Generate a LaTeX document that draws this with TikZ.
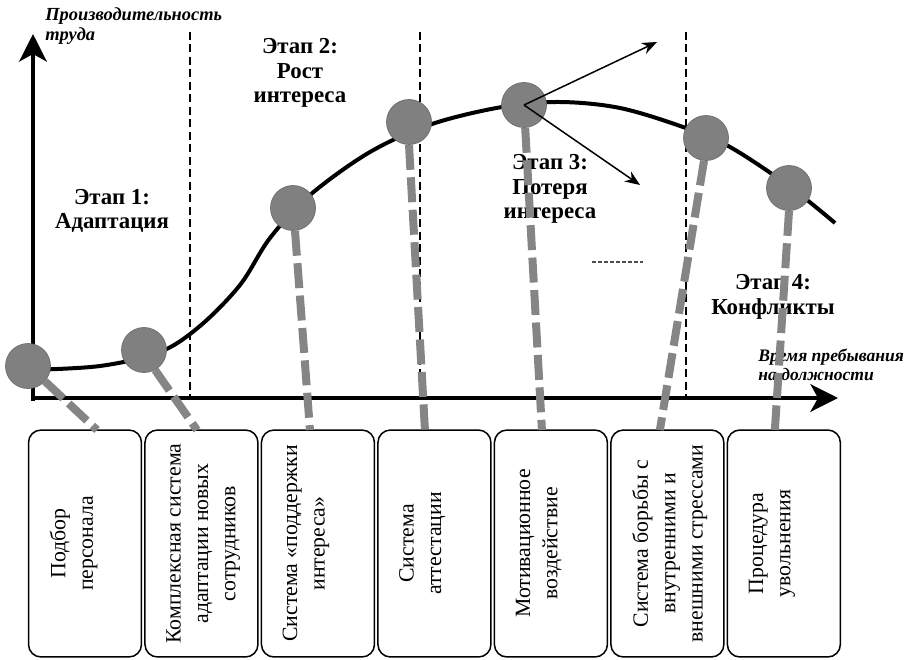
\documentclass[tikz,border=0pt]{standalone}
\usepackage{fontspec}
\setmainfont{Liberation Serif}
\usetikzlibrary{shapes,arrows,arrows.meta,positioning,calc}

\begin{document}
\begin{tikzpicture}[x=0.02cm,y=-0.02cm]
  \tikzstyle{axis}=[line width=0.08cm, -{Stealth[length=0.55cm,width=0.55cm,inset=0.15cm]}]
  \tikzstyle{border}=[line width=0.04cm, dash pattern=on 0.16cm off 0.09cm]
  \tikzstyle{ball}=[circle, fill=black!50, draw=black!58, minimum size=0.9cm, inner sep=0pt]
  \tikzstyle{stem}=[line width=0.16cm, black!48, dash pattern=on 0.5cm off 0.15cm]
  \tikzstyle{tool}=[draw, line width=0.03cm, rounded corners=0.25cm, minimum width=2.26cm, minimum height=4.54cm, inner sep=0pt, outer sep=0pt]
  \tikzstyle{tooltext}=[rotate=90, anchor=north, inner sep=0pt, align=center, font=\fontsize{12.4}{15.6}\selectfont]
  \tikzstyle{stage}=[align=center, font=\fontsize{13}{14}\selectfont\bfseries]
  \tikzstyle{axislabel}=[anchor=north west, inner sep=0pt, align=left, font=\fontsize{10.5}{11.5}\selectfont\bfseries\itshape]
  \tikzstyle{trend}=[line width=0.03cm, -{Stealth[length=0.3cm,width=0.24cm]}]

  \useasboundingbox (0,0) rectangle (919,659);

  % Границы этапов
  \draw[border] (190,32) -- (190,398);
  \draw[border] (420,32) -- (420,398);
  \draw[border] (686,32) -- (686,398);

  % Оси
  \coordinate (o) at (33,401);
  \coordinate (ytip) at (33,34);
  \coordinate (xtip) at (838,398);
  \draw[axis] (o) -- (ytip);
  \draw[axis] (31,398) -- (xtip);

  % Кривая производительности
  \draw[line width=0.08cm] plot[smooth, tension=0.55] coordinates {(28,370) (100,366) (160,352) (200,326) (240,285) (270,238) (310,195) (370,152) (432,124) (502,107) (560,102) (620,108) (683,127) (730,147) (789,186) (835,223)};

  % Подписи осей
  \node[axislabel] (ylab) at (45,7) {Производительность\\труда};
  \node[axislabel, font=\fontsize{10}{10.5}\selectfont\bfseries\itshape] (xlab) at (758,349) {Время пребывания\\на должности};

  % Этапы
  \node[stage] (st1) at (112,211) {Этап 1:\\Адаптация};
  \node[stage] (st2) at (300,73) {Этап 2:\\Рост\\интереса};
  \node[stage] (st3) at (550,189) {Этап 3:\\Потеря\\интереса};
  \node[stage] (st4) at (773,297) {Этап 4:\\Конфликты};
  \draw[black!70, line width=0.025cm, dash pattern=on 0.08cm off 0.04cm] (592,262) -- (643,262);

  % Блоки методов
  \node[tool] (box1) at (85,543.5) {};
  \node[tool, right=0.07cm of box1] (box2) {};
  \node[tool, right=0.07cm of box2] (box3) {};
  \node[tool, right=0.07cm of box3] (box4) {};
  \node[tool, right=0.07cm of box4] (box5) {};
  \node[tool, right=0.07cm of box5] (box6) {};
  \node[tool, right=0.07cm of box6] (box7) {};

  % Точки на кривой
  \node[ball] (b1) at (28,366) {};
  \node[ball] (b2) at (144,350) {};
  \node[ball] (b3) at (293,208) {};
  \node[ball] (b4) at (409,122) {};
  \node[ball] (b5) at (524,105) {};
  \node[ball] (b6) at (706,138) {};
  \node[ball] (b7) at (789,188) {};

  % Связи точек с блоками
  \draw[stem] (b1.-42) -- ($(box1.north west)+(68.5,0)$);
  \draw[stem] (b2.-61) -- ($(box2.north west)+(52,0)$);
  \draw[stem] (b3.-85) -- ($(box3.north west)+(48.5,0)$);
  \draw[stem] (b4.south) -- ($(box4.north west)+(47,0)$);
  \draw[stem] (b5.-87) -- ($(box5.north west)+(47.5,0)$);
  \draw[stem] (b6.-95) -- ($(box6.north west)+(49,0)$);
  \draw[stem] (b7.south) -- ($(box7.north west)+(47.5,0)$);

  % Варианты развития
  \coordinate (up) at (657,42);
  \coordinate (down) at (640,185);
  \draw[trend] (b5.center) -- (up);
  \draw[trend] (b5.center) -- (down);

  % Тексты блоков
  \node[tooltext] (t1) at ($(box1.west)+(21,0)$) {Подбор\\персонала};
  \node[tooltext] (t2) at ($(box2.west)+(21,0)$) {Комплексная система\\адаптации новых\\сотрудников};
  \node[tooltext] (t3) at ($(box3.west)+(21,0)$) {Система «поддержки\\интереса»};
  \node[tooltext] (t4) at ($(box4.west)+(21,0)$) {Система\\аттестации};
  \node[tooltext] (t5) at ($(box5.west)+(21,0)$) {Мотивационное\\воздействие};
  \node[tooltext] (t6) at ($(box6.west)+(21,0)$) {Система борьбы с\\внутренними и\\внешними стрессами};
  \node[tooltext] (t7) at ($(box7.west)+(21,0)$) {Процедура\\увольнения};
\end{tikzpicture}
\end{document}
